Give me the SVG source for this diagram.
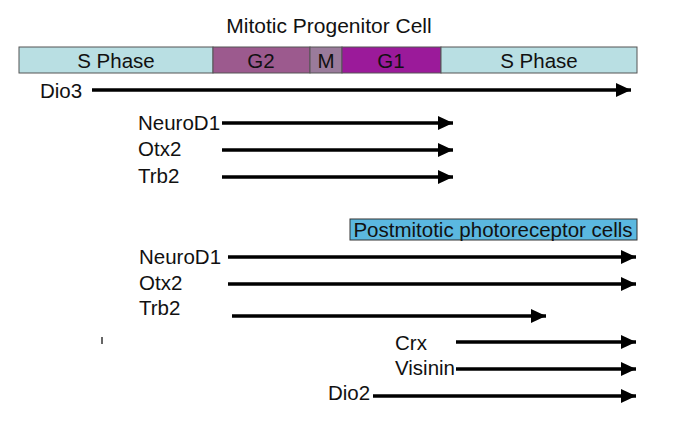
<svg xmlns="http://www.w3.org/2000/svg" width="685" height="431" viewBox="0 0 685 431">
<style>
text{font-family:"Liberation Sans",Arial,sans-serif;fill:#111}
.lbl{font-size:20.5px}
.seg{stroke:#555;stroke-width:1}
.arr{stroke:#000;stroke-width:3.5;fill:none;marker-end:url(#ah)}
</style>
<defs>
<marker id="ah" markerUnits="userSpaceOnUse" markerWidth="16" markerHeight="14" refX="15" refY="7" orient="auto">
<path d="M0,0 L15,7 L0,14 Z" fill="#000"/>
</marker>
</defs>
<rect width="685" height="431" fill="#fff"/>
<g id="title"><text x="329" y="33" text-anchor="middle" style="font-size:21px">Mitotic Progenitor Cell</text></g>
<g id="cellcycle">
<rect class="seg" x="19" y="47" width="194" height="26" fill="#b9dfe3"/>
<rect class="seg" x="213" y="47" width="97" height="26" fill="#9c5a8e"/>
<rect class="seg" x="310" y="47" width="32" height="26" fill="#9a7b9b"/>
<rect class="seg" x="342" y="47" width="99" height="26" fill="#9b1a9a"/>
<rect class="seg" x="441" y="47" width="196" height="26" fill="#b9dfe3"/>
<text class="lbl" x="116" y="68" text-anchor="middle">S Phase</text>
<text class="lbl" x="261" y="68" text-anchor="middle">G2</text>
<text class="lbl" x="326" y="68" text-anchor="middle">M</text>
<text class="lbl" x="391" y="68" text-anchor="middle">G1</text>
<text class="lbl" x="539" y="68" text-anchor="middle">S Phase</text>
</g>
<g id="postmitotic">
<rect x="350" y="219" width="287" height="21" fill="#5bb8e0" stroke="#333" stroke-width="1"/>
<text x="493" y="237" text-anchor="middle" style="font-size:20.5px">Postmitotic photoreceptor cells</text>
</g>
<g id="labels">
<text class="lbl" x="40" y="98">Dio3</text>
<text class="lbl" x="138" y="130">NeuroD1</text>
<text class="lbl" x="138" y="156">Otx2</text>
<text class="lbl" x="138" y="183">Trb2</text>
<text class="lbl" x="139" y="264">NeuroD1</text>
<text class="lbl" x="139" y="290">Otx2</text>
<text class="lbl" x="139" y="315">Trb2</text>
<text class="lbl" x="395" y="350">Crx</text>
<text class="lbl" x="395" y="375">Visinin</text>
<text class="lbl" x="328" y="400">Dio2</text>
</g>
<g id="connectors">
<line class="arr" x1="92" y1="90" x2="631" y2="90"/>
<line class="arr" x1="222" y1="123" x2="453" y2="123"/>
<line class="arr" x1="222" y1="150" x2="453" y2="150"/>
<line class="arr" x1="222" y1="177" x2="453" y2="177"/>
<line class="arr" x1="228" y1="257" x2="636" y2="257"/>
<line class="arr" x1="228" y1="284" x2="636" y2="284"/>
<line class="arr" x1="232" y1="316" x2="546" y2="316"/>
<line class="arr" x1="456" y1="342" x2="636" y2="342"/>
<line class="arr" x1="456" y1="369" x2="636" y2="369"/>
<line class="arr" x1="373" y1="396" x2="636" y2="396"/>
</g>
<line x1="102" y1="337" x2="102" y2="344" stroke="#333" stroke-width="1.5"/>
</svg>
